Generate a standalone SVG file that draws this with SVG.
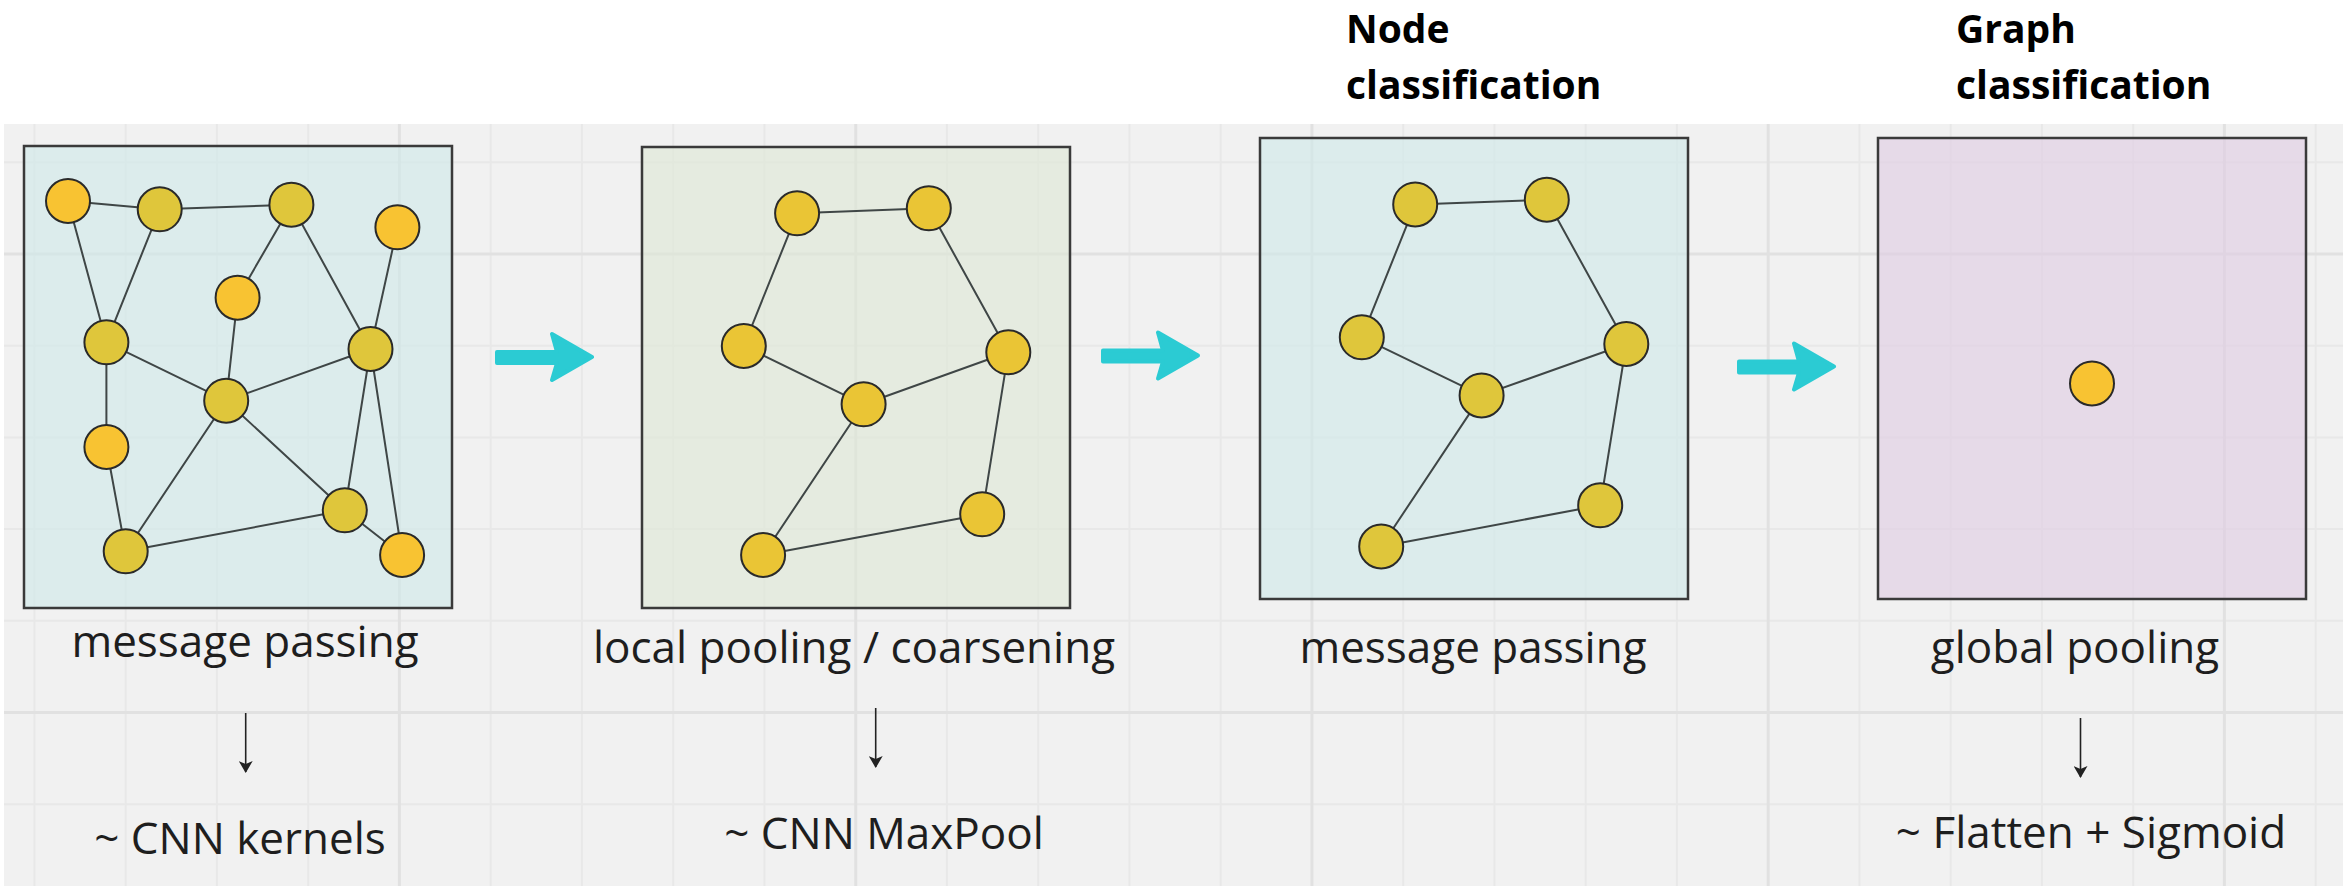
<svg xmlns="http://www.w3.org/2000/svg" width="2343" height="886" viewBox="0 0 2343 886">
  <defs>
    <style>
      .panel { stroke: #3a3a3a; stroke-width: 2.5; fill-opacity: 0.6; }
      .teal { fill: #ceeae9; }
      .sage { fill: #dde7d5; }
      .lilac { fill: #dfcce2; }
      .edge { stroke: #3f4646; stroke-width: 2; fill: none; }
      .node { stroke: #2a2a2a; stroke-width: 2; }
      .olive { fill: #dfc63b; }
      .amber { fill: #f8c332; }
      .gold { fill: #eac535; }
      .label { font-family: "Open Sans", "Noto Sans", "Liberation Sans", sans-serif; font-size: 44px; fill: #1e1e1e; text-anchor: middle; }
      .title { font-family: "Open Sans", "Noto Sans", "Liberation Sans", sans-serif; font-size: 39px; font-weight: 700; fill: #000; }
      .grid-minor { stroke: #e8e8e8; stroke-width: 2; fill: none; }
      .grid-major { stroke: #e1e1e1; stroke-width: 3; fill: none; }
      .flow { fill: #2bcbd3; stroke: #2bcbd3; stroke-width: 4; stroke-linejoin: round; }
      .down { stroke: #222; stroke-width: 1.6; fill: none; marker-end: url(#tip); }
    </style>
    <marker id="tip" viewBox="0 0 12 14" refX="11" refY="7" markerWidth="12" markerHeight="14" markerUnits="userSpaceOnUse" orient="auto">
      <path d="M0,0 L12,7 L0,14 L3,7 Z" fill="#222"/>
    </marker>
    <path id="bigArrow" d="M-3,0 L-43,-23 L-38,-5 L-98,-5 L-98,6 L-38,6 L-43,23 Z"/>
  </defs>

  <!-- canvas -->
  <rect x="0" y="0" width="2343" height="886" fill="#ffffff"/>
  <rect x="4" y="124" width="2339" height="762" fill="#f1f1f1"/>

  <!-- board grid -->
  <g id="grid">
    <path class="grid-minor" d="M34.4,124V886 M125.7,124V886 M216.9,124V886 M308.2,124V886 M490.7,124V886 M581.9,124V886 M673.2,124V886 M764.4,124V886 M946.9,124V886 M1038.2,124V886 M1129.4,124V886 M1220.7,124V886 M1403.2,124V886 M1494.4,124V886 M1585.7,124V886 M1676.9,124V886 M1859.4,124V886 M1950.7,124V886 M2041.9,124V886 M2133.2,124V886 M2315.7,124V886 M4,162.3H2343 M4,345.7H2343 M4,437.4H2343 M4,529.1H2343 M4,620.8H2343 M4,804.2H2343"/>
    <path class="grid-major" d="M399.4,124V886 M855.7,124V886 M1311.9,124V886 M1768.2,124V886 M2224.4,124V886 M4,254H2343 M4,712.5H2343"/>
  </g>

  <!-- stage 1: message passing on the full graph -->
  <g id="stage-message-passing-1">
    <rect class="panel teal" x="24" y="146" width="428" height="462"/>
    <g id="edges-1">
      <path class="edge" d="M68,201L159.7,209.3 M159.7,209.3L291.4,204.7 M68,201L106.4,342.3 M159.7,209.3L106.4,342.3 M291.4,204.7L237.6,297.7 M291.4,204.7L370.5,349 M397.4,227.3L370.5,349 M237.6,297.7L226.2,400.7 M106.4,342.3L226.2,400.7 M106.4,342.3L106.4,447 M226.2,400.7L370.5,349 M226.2,400.7L125.7,551.3 M226.2,400.7L344.8,510.3 M106.4,447L125.7,551.3 M125.7,551.3L344.8,510.3 M370.5,349L344.8,510.3 M370.5,349L402.1,555 M344.8,510.3L402.1,555"/>
    </g>
    <circle id="n1-a" class="node amber" cx="68" cy="201" r="22"/>
    <circle id="n1-b" class="node olive" cx="159.7" cy="209.3" r="22"/>
    <circle id="n1-c" class="node olive" cx="291.4" cy="204.7" r="22"/>
    <circle id="n1-d" class="node amber" cx="397.4" cy="227.3" r="22"/>
    <circle id="n1-e" class="node amber" cx="237.6" cy="297.7" r="22"/>
    <circle id="n1-f" class="node olive" cx="106.4" cy="342.3" r="22"/>
    <circle id="n1-g" class="node olive" cx="370.5" cy="349" r="22"/>
    <circle id="n1-h" class="node olive" cx="226.2" cy="400.7" r="22"/>
    <circle id="n1-i" class="node amber" cx="106.4" cy="447" r="22"/>
    <circle id="n1-j" class="node olive" cx="344.8" cy="510.3" r="22"/>
    <circle id="n1-k" class="node olive" cx="125.7" cy="551.3" r="22"/>
    <circle id="n1-l" class="node amber" cx="402.1" cy="555" r="22"/>
    <text class="label" x="245" y="657">message passing</text>
    <text class="label" x="240" y="854">~ CNN kernels</text>
  </g>

  <!-- stage 2: local pooling / coarsening -->
  <g id="stage-local-pooling">
    <rect class="panel sage" x="642" y="147" width="428" height="461"/>
    <g id="edges-2">
      <path class="edge" d="M797.1,213.3L928.8,208.3 M797.1,213.3L743.8,346 M928.8,208.3L1008.3,352.3 M743.8,346L863.6,404.3 M863.6,404.3L1008.3,352.3 M863.6,404.3L763.1,555 M763.1,555L982.2,514.3 M1008.3,352.3L982.2,514.3"/>
    </g>
    <circle id="n2-a" class="node gold" cx="797.1" cy="213.3" r="22"/>
    <circle id="n2-b" class="node gold" cx="928.8" cy="208.3" r="22"/>
    <circle id="n2-c" class="node gold" cx="743.8" cy="346" r="22"/>
    <circle id="n2-d" class="node gold" cx="1008.3" cy="352.3" r="22"/>
    <circle id="n2-e" class="node gold" cx="863.6" cy="404.3" r="22"/>
    <circle id="n2-f" class="node gold" cx="982.2" cy="514.3" r="22"/>
    <circle id="n2-g" class="node gold" cx="763.1" cy="555" r="22"/>
    <text class="label" x="854" y="663">local pooling / coarsening</text>
    <text class="label" x="884" y="849">~ CNN MaxPool</text>
  </g>

  <!-- stage 3: message passing on the coarsened graph -->
  <g id="stage-message-passing-2">
    <text class="title" x="1346" y="43">Node</text>
    <text class="title" x="1346" y="99">classification</text>
    <rect class="panel teal" x="1260" y="138" width="428" height="461"/>
    <g id="edges-3">
      <path class="edge" d="M1415.2,204.4L1546.8,199.7 M1415.2,204.4L1361.8,337.3 M1546.8,199.7L1626.3,344 M1361.8,337.3L1481.6,395.4 M1481.6,395.4L1626.3,344 M1481.6,395.4L1381.2,546.5 M1381.2,546.5L1600.2,505.3 M1626.3,344L1600.2,505.3"/>
    </g>
    <circle id="n3-a" class="node olive" cx="1415.2" cy="204.4" r="22"/>
    <circle id="n3-b" class="node olive" cx="1546.8" cy="199.7" r="22"/>
    <circle id="n3-c" class="node olive" cx="1361.8" cy="337.3" r="22"/>
    <circle id="n3-d" class="node olive" cx="1626.3" cy="344" r="22"/>
    <circle id="n3-e" class="node olive" cx="1481.6" cy="395.4" r="22"/>
    <circle id="n3-f" class="node olive" cx="1600.2" cy="505.3" r="22"/>
    <circle id="n3-g" class="node olive" cx="1381.2" cy="546.5" r="22"/>
    <text class="label" x="1473" y="663">message passing</text>
  </g>

  <!-- stage 4: global pooling -->
  <g id="stage-global-pooling">
    <text class="title" x="1956" y="43">Graph</text>
    <text class="title" x="1956" y="99">classification</text>
    <rect class="panel lilac" x="1878" y="138" width="428" height="461"/>
    <circle id="n4-a" class="node amber" cx="2092" cy="383.5" r="22"/>
    <text class="label" x="2075" y="663">global pooling</text>
    <text class="label" x="2091" y="848">~ Flatten + Sigmoid</text>
  </g>

  <!-- connectors between stages and to the CNN analogies -->
  <g id="connectors">
    <use href="#bigArrow" class="flow" transform="translate(595,357)"/>
    <use href="#bigArrow" class="flow" transform="translate(1201,355.5)"/>
    <use href="#bigArrow" class="flow" transform="translate(1837,366.5)"/>
    <line class="down" x1="245.7" y1="713" x2="245.7" y2="772"/>
    <line class="down" x1="875.7" y1="708" x2="875.7" y2="767"/>
    <line class="down" x1="2080.5" y1="718" x2="2080.5" y2="777"/>
  </g>
</svg>
